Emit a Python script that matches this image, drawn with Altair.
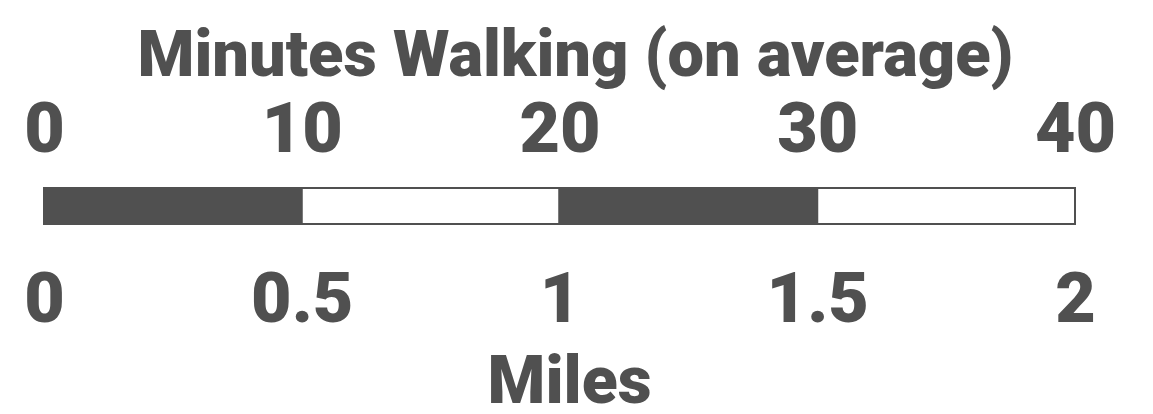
import altair as alt
import pandas as pd

# Scale-bar segments (miles)
seg_start = [0, 0.5, 1, 1.5]
seg_end = [0.5, 1, 1.5, 2]
seg_fill = ["dark", "light", "dark", "light"]

# Axis tick labels
minute_ticks = [0, 10, 20, 30, 40]
mile_ticks = [0, 0.5, 1, 1.5, 2]

GRAY = "#505050"
FONT = "Roboto"

bars = pd.DataFrame({"start": seg_start, "end": seg_end, "fill": seg_fill})
minutes = pd.DataFrame({"m": minute_ticks})

common_axis = dict(
    domain=False, ticks=False, tickSize=0, grid=False,
    labelFont=FONT, labelFontSize=70, labelFontWeight=900, labelColor=GRAY,
    labelBaseline="alphabetic", labelFlush=False, labelOverlap=False,
    titleFont=FONT, titleFontWeight=900, titleColor=GRAY,
    titleBaseline="alphabetic", titleAlign="center", titleAnchor="middle",
)

bar = alt.Chart(bars).mark_rect(stroke=GRAY, strokeWidth=2).encode(
    x=alt.X("start:Q",
            scale=alt.Scale(domain=[0, 2], nice=False, zero=False),
            axis=alt.Axis(orient="bottom", values=mile_ticks, format="~g",
                          title="Miles", labelPadding=76, titleFontSize=66,
                          titleX=525, titleY=157, **common_axis)),
    x2="end",
    y=alt.value(18),
    y2=alt.value(54),
    fill=alt.Fill("fill:N",
                  scale=alt.Scale(domain=["dark", "light"], range=[GRAY, "white"]),
                  legend=None),
)

top = alt.Chart(minutes).mark_point(opacity=0).encode(
    x=alt.X("m:Q",
            scale=alt.Scale(domain=[0, 40], nice=False, zero=False),
            axis=alt.Axis(orient="top", values=minute_ticks, format="d",
                          title="Minutes Walking (on average)", labelPadding=19,
                          titleFontSize=65, titleX=531, titleY=-95,
                          **common_axis)),
)

chart = alt.layer(bar, top).resolve_scale(x="independent").properties(
    width=1031,
    height=75,
    background="white",
    autosize=alt.AutoSizeParams(type="none"),
    padding={"left": 36, "top": 162, "right": 68, "bottom": 161},
).configure_view(stroke=None)

chart.save("out.html", embed_options={"renderer": "svg", "actions": False})
